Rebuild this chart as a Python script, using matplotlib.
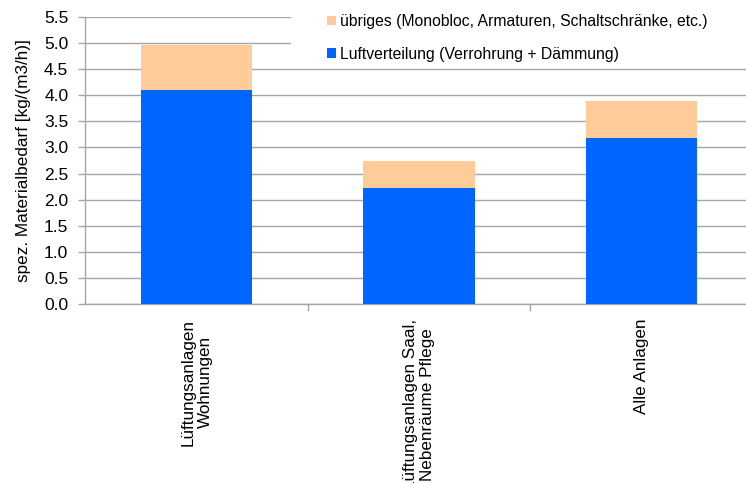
import matplotlib
matplotlib.use("Agg")
import matplotlib.pyplot as plt
import numpy as np
from matplotlib.patches import Rectangle, Patch

plt.rcParams['font.family'] = ['Liberation Sans', 'DejaVu Sans']

categories = ["Lüftungsanlagen\nWohnungen",
              "Lüftungsanlagen Saal,\nNebenräume Pflege",
              "Alle Anlagen"]
luftverteilung = [4.10, 2.22, 3.18]
uebriges = [0.87, 0.52, 0.71]
series_names = ["Luftverteilung (Verrohrung + Dämmung)",
                "übriges (Monobloc, Armaturen, Schaltschränke, etc.)"]
yticks = [0.0, 0.5, 1.0, 1.5, 2.0, 2.5, 3.0, 3.5, 4.0, 4.5, 5.0, 5.5]

blue = "#0066FF"
peach = "#FFCC99"
grid_c = "#A6A6A6"

fig = plt.figure(figsize=(7.46, 4.83), dpi=100)
ax = fig.add_axes([85 / 746, 1 - 304 / 483, 668 / 746, 287 / 483])

x = np.arange(len(categories))
ax.bar(x, luftverteilung, width=0.5, color=blue, zorder=3)
ax.bar(x, uebriges, width=0.5, bottom=luftverteilung, color=peach, zorder=3)

ax.set_xlim(-0.5, len(categories) - 0.5)
ax.set_ylim(0, 5.5)
ax.set_yticks(yticks)
ax.set_yticklabels([f"{v:.1f}" for v in yticks], fontsize=12.5)
ax.yaxis.grid(True, color=grid_c, linewidth=1.0, zorder=0)
ax.set_axisbelow(True)

ax.set_xticks(x)
ax.set_xticklabels(categories, rotation=90, fontsize=12.3,
                   ha="center", va="top", multialignment="center")
ax.tick_params(axis="x", which="major", length=0, pad=10.5)
ax.set_xticks(np.arange(0.5, len(categories) - 0.5, 1.0), minor=True)
ax.tick_params(axis="x", which="minor", length=5, color=grid_c, width=1)
ax.tick_params(axis="y", length=5, color=grid_c, width=1, pad=7)

for side in ("top", "right"):
    ax.spines[side].set_visible(False)
for side in ("left", "bottom"):
    ax.spines[side].set_color(grid_c)
    ax.spines[side].set_linewidth(1.0)

ax.set_ylabel("spez. Materialbedarf [kg/(m3/h)]", fontsize=12.3, labelpad=9)

# white backdrop behind the legend
fig.patches.append(Rectangle((291 / 746, 1 - 68 / 483), 1.0, 68 / 483,
                             transform=fig.transFigure, facecolor="white",
                             edgecolor="none", zorder=5))

handles = [Patch(facecolor=peach, edgecolor="none"),
           Patch(facecolor=blue, edgecolor="none")]
leg = fig.legend(handles, [series_names[1], series_names[0]],
                 loc="upper left", bbox_to_anchor=(316 / 746, 1 - 3 / 483),
                 frameon=False, fontsize=11.3, handlelength=0.55,
                 handleheight=0.55, handletextpad=0.3, labelspacing=1.12,
                 borderpad=0.2)
leg.set_zorder(6)

fig.savefig("out.png", dpi=100)
